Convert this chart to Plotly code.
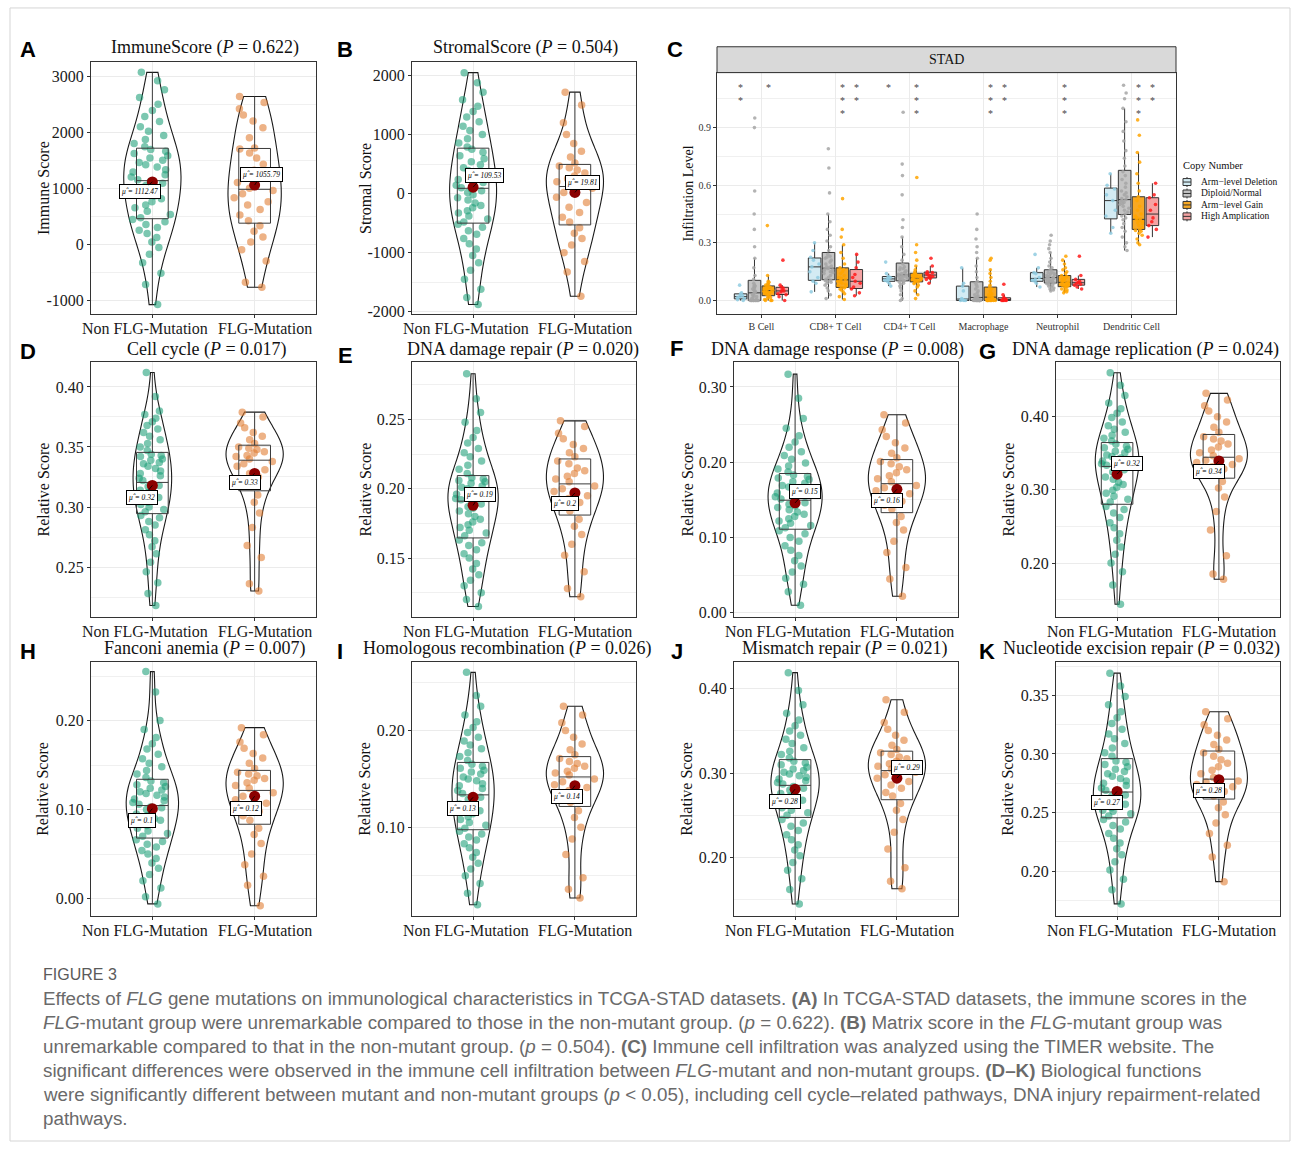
import numpy as np
import plotly.graph_objects as go

FIG_W, FIG_H = 1296, 1149
SERIF = "Liberation Serif"
SANS = "Liberation Sans"

# ------------------------------------------------------------------ data
GROUP_LABELS = ["Non FLG-Mutation", "FLG-Mutation"]

immune_non = [-1080, -720, -520, -330, -180, -60, 40, 120, 190, 250, 300, 350, 400, 440,
              470, 530, 590, 650, 700, 760, 810, 860, 910, 960, 1010, 1050, 1090, 1120,
              1150, 1200, 1240, 1290, 1330, 1380, 1420, 1460, 1500, 1540, 1580, 1620, 1660, 1690,
              1740, 1800, 1870, 1940, 2020, 2100, 2190, 2280, 2390, 2500, 2620, 2760, 2920, 3070]
immune_mut = [-770, -680, -300, -100, 40, 130, 230, 330, 420, 520, 620, 700, 760, 830, 900, 960,
              1000, 1100, 1210, 1320, 1430, 1540, 1630, 1700, 1720, 1900, 2080, 2200, 2310, 2420, 2530, 2640]

stromal_non = [-1880, -1760, -1620, -1450, -1300, -1170, -1050, -940, -850, -760, -690, -630, -570, -520,
               -480, -430, -380, -330, -290, -240, -200, -160, -110, -70, -20, 20, 50, 80,
               100, 140, 190, 240, 290, 340, 390, 440, 490, 540, 590, 640, 700, 750,
               790, 860, 930, 1000, 1070, 1140, 1220, 1300, 1390, 1480, 1590, 1720, 1880, 2050]
stromal_mut = [-1740, -1330, -1150, -1000, -870, -760, -670, -580, -480, -400, -320, -230, -150, -60, 20, 90,
               150, 200, 250, 300, 350, 400, 440, 470, 520, 620, 720, 850, 1000, 1200, 1500, 1720]

cellcycle_non = [0.218, 0.228, 0.237, 0.246, 0.254, 0.261, 0.267, 0.272, 0.277, 0.281, 0.285, 0.288, 0.291, 0.293,
                 0.296, 0.298, 0.300, 0.302, 0.304, 0.306, 0.308, 0.310, 0.312, 0.314, 0.315, 0.317, 0.318, 0.319,
                 0.322, 0.324, 0.326, 0.328, 0.330, 0.332, 0.334, 0.336, 0.337, 0.339, 0.340, 0.342, 0.343, 0.344,
                 0.347, 0.350, 0.353, 0.356, 0.359, 0.362, 0.365, 0.368, 0.371, 0.374, 0.377, 0.380, 0.392, 0.412]
cellcycle_mut = [0.230, 0.236, 0.258, 0.268, 0.283, 0.295, 0.304, 0.310, 0.317, 0.321, 0.325, 0.328, 0.331, 0.334, 0.336, 0.338,
                 0.340, 0.342, 0.343, 0.345, 0.346, 0.348, 0.349, 0.350, 0.353, 0.356, 0.359, 0.362, 0.366, 0.370, 0.375, 0.379]

ddrepair_non = [0.115, 0.120, 0.125, 0.130, 0.134, 0.138, 0.142, 0.146, 0.150, 0.153, 0.156, 0.159, 0.161, 0.163,
                0.166, 0.168, 0.170, 0.172, 0.174, 0.176, 0.178, 0.180, 0.182, 0.184, 0.186, 0.187, 0.189, 0.190,
                0.192, 0.193, 0.194, 0.196, 0.197, 0.198, 0.200, 0.201, 0.202, 0.204, 0.205, 0.206, 0.207, 0.208,
                0.211, 0.214, 0.217, 0.220, 0.223, 0.226, 0.229, 0.233, 0.237, 0.242, 0.248, 0.255, 0.265, 0.283]
ddrepair_mut = [0.122, 0.128, 0.140, 0.152, 0.160, 0.167, 0.173, 0.178, 0.184, 0.187, 0.190, 0.193, 0.195, 0.198, 0.200, 0.202,
                0.205, 0.207, 0.209, 0.211, 0.213, 0.215, 0.218, 0.220, 0.223, 0.226, 0.229, 0.232, 0.236, 0.240, 0.245, 0.249]

ddresponse_non = [0.010, 0.028, 0.038, 0.046, 0.054, 0.062, 0.069, 0.076, 0.083, 0.089, 0.095, 0.100, 0.105, 0.109,
                  0.113, 0.116, 0.119, 0.122, 0.125, 0.128, 0.131, 0.134, 0.137, 0.140, 0.142, 0.144, 0.146, 0.148,
                  0.151, 0.154, 0.157, 0.159, 0.162, 0.164, 0.167, 0.169, 0.172, 0.174, 0.177, 0.179, 0.181, 0.183,
                  0.187, 0.191, 0.195, 0.199, 0.204, 0.209, 0.214, 0.220, 0.227, 0.235, 0.245, 0.258, 0.285, 0.317]
ddresponse_mut = [0.022, 0.045, 0.060, 0.080, 0.095, 0.110, 0.120, 0.128, 0.138, 0.143, 0.148, 0.153, 0.158, 0.162, 0.166, 0.169,
                  0.174, 0.178, 0.182, 0.186, 0.190, 0.194, 0.198, 0.201, 0.206, 0.212, 0.219, 0.226, 0.234, 0.243, 0.252, 0.263]

ddrepl_non = [0.144, 0.170, 0.188, 0.200, 0.212, 0.222, 0.231, 0.240, 0.248, 0.255, 0.262, 0.268, 0.273, 0.277,
              0.283, 0.287, 0.291, 0.295, 0.299, 0.303, 0.307, 0.310, 0.314, 0.317, 0.321, 0.324, 0.327, 0.330,
              0.333, 0.335, 0.337, 0.339, 0.341, 0.343, 0.345, 0.347, 0.350, 0.352, 0.355, 0.357, 0.359, 0.362,
              0.366, 0.370, 0.374, 0.378, 0.382, 0.387, 0.392, 0.398, 0.404, 0.410, 0.418, 0.428, 0.442, 0.459]
ddrepl_mut = [0.178, 0.185, 0.210, 0.245, 0.270, 0.290, 0.302, 0.311, 0.320, 0.324, 0.328, 0.331, 0.334, 0.337, 0.340, 0.342,
              0.346, 0.350, 0.354, 0.358, 0.362, 0.366, 0.369, 0.372, 0.378, 0.385, 0.392, 0.399, 0.407, 0.414, 0.422, 0.431]

fanconi_non = [-0.006, 0.002, 0.012, 0.020, 0.027, 0.034, 0.040, 0.045, 0.050, 0.054, 0.058, 0.061, 0.064, 0.066,
               0.070, 0.073, 0.076, 0.079, 0.082, 0.085, 0.088, 0.090, 0.093, 0.095, 0.098, 0.100, 0.102, 0.103,
               0.106, 0.108, 0.110, 0.112, 0.114, 0.116, 0.118, 0.120, 0.122, 0.124, 0.126, 0.128, 0.130, 0.132,
               0.136, 0.140, 0.144, 0.148, 0.152, 0.157, 0.162, 0.168, 0.174, 0.181, 0.190, 0.200, 0.232, 0.255]
fanconi_mut = [-0.008, 0.015, 0.025, 0.038, 0.050, 0.062, 0.072, 0.079, 0.088, 0.093, 0.098, 0.103, 0.107, 0.111, 0.115, 0.119,
               0.124, 0.127, 0.130, 0.133, 0.135, 0.138, 0.140, 0.142, 0.146, 0.152, 0.158, 0.163, 0.169, 0.176, 0.184, 0.192]

homrec_non = [0.020, 0.032, 0.042, 0.050, 0.057, 0.063, 0.069, 0.074, 0.079, 0.083, 0.087, 0.090, 0.093, 0.096,
              0.099, 0.102, 0.105, 0.108, 0.111, 0.114, 0.117, 0.119, 0.122, 0.124, 0.127, 0.129, 0.131, 0.132,
              0.135, 0.138, 0.140, 0.143, 0.145, 0.148, 0.150, 0.152, 0.155, 0.157, 0.159, 0.161, 0.163, 0.165,
              0.169, 0.173, 0.177, 0.181, 0.185, 0.189, 0.193, 0.198, 0.203, 0.209, 0.216, 0.225, 0.236, 0.260]
homrec_mut = [0.027, 0.036, 0.048, 0.072, 0.088, 0.100, 0.110, 0.117, 0.126, 0.130, 0.134, 0.138, 0.141, 0.144, 0.147, 0.150,
              0.154, 0.156, 0.158, 0.161, 0.163, 0.166, 0.168, 0.171, 0.175, 0.180, 0.186, 0.193, 0.200, 0.208, 0.216, 0.225]

mismatch_non = [0.145, 0.162, 0.175, 0.185, 0.194, 0.202, 0.209, 0.215, 0.221, 0.227, 0.232, 0.237, 0.241, 0.245,
                0.250, 0.253, 0.256, 0.259, 0.262, 0.265, 0.268, 0.270, 0.273, 0.276, 0.278, 0.280, 0.282, 0.284,
                0.287, 0.289, 0.291, 0.293, 0.295, 0.297, 0.299, 0.301, 0.303, 0.305, 0.307, 0.310, 0.312, 0.314,
                0.318, 0.322, 0.326, 0.330, 0.335, 0.340, 0.345, 0.350, 0.356, 0.363, 0.371, 0.381, 0.398, 0.419]
mismatch_mut = [0.163, 0.172, 0.188, 0.210, 0.230, 0.245, 0.256, 0.264, 0.273, 0.277, 0.282, 0.286, 0.290, 0.294, 0.298, 0.301,
                0.305, 0.308, 0.311, 0.314, 0.317, 0.319, 0.322, 0.324, 0.328, 0.333, 0.339, 0.345, 0.352, 0.360, 0.372, 0.387]

ner_non = [0.172, 0.184, 0.193, 0.201, 0.208, 0.214, 0.219, 0.224, 0.228, 0.232, 0.236, 0.239, 0.242, 0.244,
           0.247, 0.249, 0.251, 0.252, 0.254, 0.256, 0.257, 0.259, 0.260, 0.262, 0.263, 0.264, 0.265, 0.266,
           0.269, 0.271, 0.273, 0.275, 0.277, 0.279, 0.281, 0.283, 0.285, 0.287, 0.289, 0.291, 0.293, 0.294,
           0.298, 0.301, 0.305, 0.309, 0.313, 0.317, 0.321, 0.326, 0.331, 0.336, 0.342, 0.349, 0.358, 0.369]
ner_mut = [0.191, 0.212, 0.222, 0.232, 0.241, 0.248, 0.254, 0.259, 0.264, 0.266, 0.268, 0.270, 0.272, 0.274, 0.276, 0.277,
           0.280, 0.283, 0.286, 0.289, 0.292, 0.295, 0.298, 0.301, 0.304, 0.308, 0.312, 0.316, 0.320, 0.325, 0.330, 0.336]

VIOLIN_KEYS = ["A", "B", "D", "E", "F", "G", "H", "I", "J", "K"]
VIOLIN_NON = [immune_non, stromal_non, cellcycle_non, ddrepair_non, ddresponse_non,
              ddrepl_non, fanconi_non, homrec_non, mismatch_non, ner_non]
VIOLIN_MUT = [immune_mut, stromal_mut, cellcycle_mut, ddrepair_mut, ddresponse_mut,
              ddrepl_mut, fanconi_mut, homrec_mut, mismatch_mut, ner_mut]
PANEL_TITLES = ["ImmuneScore", "StromalScore", "Cell cycle", "DNA damage repair", "DNA damage response",
                "DNA damage replication", "Fanconi anemia", "Homologous recombination", "Mismatch repair",
                "Nucleotide excision repair"]
PANEL_P = ["0.622", "0.504", "0.017", "0.020", "0.008", "0.024", "0.007", "0.026", "0.021", "0.032"]
Y_TITLES = ["Immune Score", "Stromal Score"] + ["Relative Score"] * 8
MEAN_NON = [1112.47, 109.53, 0.318, 0.188, 0.146, 0.321, 0.101, 0.131, 0.281, 0.268]
MEAN_MUT = [1055.79, 19.81, 0.328, 0.197, 0.164, 0.339, 0.115, 0.143, 0.294, 0.278]
MEAN_LABEL_NON = ["1112.47", "109.53", "0.32", "0.19", "0.15", "0.32", "0.1", "0.13", "0.28", "0.27"]
MEAN_LABEL_MUT = ["1055.79", "19.81", "0.33", "0.2", "0.16", "0.34", "0.12", "0.14", "0.29", "0.28"]
Y_TICKS = [[-1000, 0, 1000, 2000, 3000], [-2000, -1000, 0, 1000, 2000], [0.25, 0.30, 0.35, 0.40],
           [0.15, 0.20, 0.25], [0.00, 0.10, 0.20, 0.30], [0.20, 0.30, 0.40], [0.00, 0.10, 0.20],
           [0.10, 0.20], [0.20, 0.30, 0.40], [0.20, 0.25, 0.30, 0.35]]
Y_TICK_TEXT = [["-1000", "0", "1000", "2000", "3000"], ["-2000", "-1000", "0", "1000", "2000"],
               ["0.25", "0.30", "0.35", "0.40"], ["0.15", "0.20", "0.25"], ["0.00", "0.10", "0.20", "0.30"],
               ["0.20", "0.30", "0.40"], ["0.00", "0.10", "0.20"], ["0.10", "0.20"],
               ["0.20", "0.30", "0.40"], ["0.20", "0.25", "0.30", "0.35"]]

# Panel C (TIMER, STAD)
C_CELLS = ["B Cell", "CD8+ T Cell", "CD4+ T Cell", "Macrophage", "Neutrophil", "Dendritic Cell"]
C_GROUPS = ["Arm\u2212level Deletion", "Diploid/Normal", "Arm\u2212level Gain", "High Amplication"]
c_deletion = [
    [0.000, 0.004, 0.010, 0.015, 0.020, 0.025, 0.033, 0.040, 0.080],
    [0.045, 0.09, 0.10, 0.12, 0.15, 0.175, 0.19, 0.21, 0.225, 0.26, 0.30],
    [0.075, 0.09, 0.10, 0.105, 0.11, 0.115, 0.12, 0.125, 0.14, 0.20],
    [0.0, 0.0, 0.0, 0.003, 0.005, 0.01, 0.05, 0.075, 0.09, 0.17],
    [0.07, 0.09, 0.10, 0.105, 0.11, 0.12, 0.14, 0.145, 0.17, 0.24],
    [0.35, 0.38, 0.44, 0.47, 0.52, 0.55, 0.58, 0.60, 0.66],
]
c_diploid = [
    [0, 0, 0, 0, 0, 0, 0, 0, 0, 0, 0, 0, 0.005, 0.01, 0.015, 0.02, 0.025, 0.03, 0.035, 0.04, 0.045,
     0.05, 0.055, 0.06, 0.065, 0.07, 0.075, 0.08, 0.09, 0.11, 0.13, 0.17, 0.22, 0.28, 0.37, 0.45, 0.57, 0.90, 0.95],
    [0.01, 0.03, 0.05, 0.065, 0.08, 0.09, 0.095, 0.10, 0.103, 0.106, 0.11, 0.12, 0.13, 0.14, 0.145, 0.15, 0.155,
     0.16, 0.163, 0.166, 0.17, 0.175, 0.18, 0.19, 0.20, 0.21, 0.22, 0.225, 0.23, 0.24, 0.26, 0.28, 0.31, 0.34,
     0.37, 0.41, 0.45, 0.56, 0.69, 0.79],
    [0.0, 0.01, 0.03, 0.05, 0.065, 0.075, 0.085, 0.09, 0.095, 0.10, 0.103, 0.106, 0.11, 0.113, 0.116, 0.12,
     0.123, 0.126, 0.128, 0.13, 0.133, 0.136, 0.14, 0.145, 0.15, 0.155, 0.16, 0.165, 0.17, 0.175, 0.19, 0.21,
     0.24, 0.28, 0.33, 0.38, 0.42, 0.55, 0.65, 0.71, 0.98],
    [0, 0, 0, 0, 0, 0, 0, 0, 0, 0, 0, 0, 0, 0.002, 0.004, 0.006, 0.008, 0.01, 0.013, 0.016, 0.02, 0.025, 0.03,
     0.04, 0.05, 0.06, 0.07, 0.08, 0.09, 0.10, 0.12, 0.15, 0.18, 0.22, 0.25, 0.28, 0.32, 0.37, 0.45],
    [0.05, 0.055, 0.06, 0.065, 0.07, 0.075, 0.08, 0.085, 0.088, 0.091, 0.094, 0.097, 0.10, 0.103, 0.106, 0.109,
     0.112, 0.115, 0.118, 0.121, 0.124, 0.127, 0.13, 0.134, 0.138, 0.142, 0.146, 0.15, 0.16, 0.17, 0.18, 0.20,
     0.22, 0.25, 0.27, 0.29, 0.31, 0.34],
    [0.26, 0.28, 0.30, 0.33, 0.36, 0.38, 0.40, 0.42, 0.43, 0.44, 0.45, 0.46, 0.47, 0.48, 0.49, 0.50, 0.505, 0.51,
     0.515, 0.52, 0.525, 0.53, 0.54, 0.55, 0.56, 0.57, 0.59, 0.61, 0.63, 0.65, 0.67, 0.70, 0.74, 0.78, 0.83,
     0.88, 0.93, 1.00, 1.05, 1.08, 1.12],
]
c_gain = [
    [0, 0, 0, 0.005, 0.01, 0.015, 0.02, 0.025, 0.03, 0.035, 0.04, 0.042, 0.045, 0.048, 0.05, 0.053, 0.056,
     0.06, 0.062, 0.065, 0.068, 0.072, 0.076, 0.08, 0.085, 0.09, 0.095, 0.10, 0.13, 0.39],
    [0.005, 0.02, 0.035, 0.045, 0.055, 0.06, 0.065, 0.068, 0.072, 0.078, 0.085, 0.09, 0.095, 0.10, 0.105, 0.11,
     0.115, 0.12, 0.13, 0.14, 0.15, 0.16, 0.17, 0.19, 0.22, 0.25, 0.29, 0.33, 0.37, 0.53],
    [0.01, 0.03, 0.05, 0.07, 0.08, 0.088, 0.093, 0.097, 0.10, 0.104, 0.107, 0.11, 0.112, 0.114, 0.116, 0.118,
     0.121, 0.124, 0.127, 0.13, 0.134, 0.138, 0.142, 0.15, 0.16, 0.18, 0.21, 0.25, 0.29, 0.64],
    [0, 0, 0, 0, 0, 0, 0, 0, 0, 0.003, 0.005, 0.008, 0.01, 0.012, 0.015, 0.02, 0.025, 0.03, 0.035, 0.04, 0.05,
     0.06, 0.07, 0.08, 0.10, 0.12, 0.14, 0.16, 0.21, 0.22],
    [0.04, 0.045, 0.05, 0.055, 0.06, 0.065, 0.07, 0.072, 0.075, 0.078, 0.08, 0.085, 0.088, 0.09, 0.093, 0.096,
     0.10, 0.105, 0.11, 0.115, 0.12, 0.125, 0.13, 0.14, 0.15, 0.16, 0.17, 0.19, 0.21, 0.23],
    [0.29, 0.30, 0.32, 0.34, 0.35, 0.36, 0.365, 0.37, 0.38, 0.39, 0.40, 0.405, 0.41, 0.415, 0.42, 0.425, 0.43,
     0.44, 0.45, 0.47, 0.49, 0.52, 0.54, 0.57, 0.61, 0.66, 0.72, 0.77, 0.86, 0.94],
]
c_amp = [
    [0.000, 0.020, 0.030, 0.035, 0.045, 0.050, 0.055, 0.065, 0.070, 0.080, 0.210],
    [0.025, 0.04, 0.06, 0.07, 0.09, 0.10, 0.12, 0.135, 0.17, 0.20, 0.24],
    [0.09, 0.11, 0.115, 0.12, 0.125, 0.13, 0.135, 0.14, 0.145, 0.15, 0.18, 0.22],
    [0, 0, 0, 0, 0.003, 0.005, 0.008, 0.012, 0.015, 0.03, 0.085],
    [0.06, 0.07, 0.08, 0.085, 0.09, 0.095, 0.10, 0.11, 0.13, 0.23],
    [0.33, 0.37, 0.39, 0.41, 0.43, 0.47, 0.50, 0.535, 0.55, 0.61],
]
C_SERIES = [c_deletion, c_diploid, c_gain, c_amp]
# significance marks: (cell index, group index, number of stars)
C_STARS = [(0, 0, 2), (0, 2, 1), (1, 2, 3), (1, 3, 2), (2, 0, 1), (2, 2, 3),
           (3, 2, 3), (3, 3, 2), (4, 2, 3), (5, 2, 3), (5, 3, 2)]
C_TICKS = [0.0, 0.3, 0.6, 0.9]
C_TICK_TEXT = ["0.0", "0.3", "0.6", "0.9"]

CAPTION_HEAD = "FIGURE 3"
CAPTION_LINES = [
    "Effects of <i>FLG</i> gene mutations on immunological characteristics in TCGA-STAD datasets. <b>(A)</b> In TCGA-STAD datasets, the immune scores in the",
    "<i>FLG</i>-mutant group were unremarkable compared to those in the non-mutant group. (<i>p</i> = 0.622). <b>(B)</b> Matrix score in the <i>FLG</i>-mutant group was",
    "unremarkable compared to that in the non-mutant group. (<i>p</i> = 0.504). <b>(C)</b> Immune cell infiltration was analyzed using the TIMER website. The",
    "significant differences were observed in the immune cell infiltration between <i>FLG</i>-mutant and non-mutant groups. <b>(D\u2013K)</b> Biological functions",
    "were significantly different between mutant and non-mutant groups (<i>p</i> &lt; 0.05), including cell cycle\u2013related pathways, DNA injury repairment-related",
    "pathways.",
]

# ------------------------------------------------------------------ layout (pixels)
AXIS_INDEX = {"A": 1, "B": 2, "C": 3, "D": 4, "E": 5, "F": 6, "G": 7, "H": 8, "I": 9, "J": 10, "K": 11}
PANEL_BOX = {"A": (91, 316, 62, 316), "B": (412, 636, 62, 316), "C": (717, 1176, 73, 316),
             "D": (91, 316, 364, 620), "E": (412, 636, 364, 620), "F": (734, 958, 364, 620),
             "G": (1056, 1280, 364, 620), "H": (91, 316, 665, 921), "I": (412, 636, 665, 921),
             "J": (734, 958, 665, 921), "K": (1056, 1280, 665, 921)}
Y_RANGE = {"A": (-1254, 3261), "B": (-2046, 2236), "C": (-0.072, 1.186), "D": (0.2086, 0.4207),
           "E": (0.1076, 0.2914), "F": (-0.0053, 0.333), "G": (0.1269, 0.4735), "H": (-0.0198, 0.2663),
           "I": (0.0082, 0.2712), "J": (0.1305, 0.4322), "K": (0.1615, 0.3789)}
MINOR_STEP = {"A": 500, "B": 500, "C": 0.15, "D": 0.025, "E": 0.025, "F": 0.05, "G": 0.05,
              "H": 0.05, "I": 0.05, "J": 0.05, "K": 0.025}
TITLE_POS = {"A": (205, 48), "B": (525, 48), "D": (207, 351), "E": (523, 351), "F": (837, 351),
             "G": (1145, 351), "H": (205, 652), "I": (507, 652), "J": (845, 652), "K": (1141, 652)}
LETTER_POS = {"A": (28, 50), "B": (345, 50), "C": (675, 50), "D": (28, 353), "E": (345, 357),
              "F": (676, 350), "G": (987, 353), "H": (28, 655), "I": (340, 655), "J": (677, 655),
              "K": (987, 655)}
YTITLE_X = {"A": 43, "B": 365, "D": 43, "E": 365, "F": 687, "G": 1008, "H": 43, "I": 365,
            "J": 687, "K": 1008, "C": 688}
XLABEL_SHIFT = (-7.5, 10.5)       # pixel shift of the two group labels from their ticks
XLABEL_GAP = 14.5                 # pixels from panel bottom to label anchor
STAR_TOP = 80                     # pixel row of the top of the significance stacks
LABEL_OFFSETS = {"A": ((-12, 10), (7, -11)), "B": ((11, -12), (8, -10)), "D": ((-10, 12), (-10, 9)),
                 "E": ((7, -11), (-10, 11)), "F": ((10, -11), (-10, 11)), "G": ((10, -11), (-10, 11)),
                 "H": ((-10, 12), (-9, 12)), "I": ((-10, 11), (-8, 11)), "J": ((-10, 12), (10, -11)),
                 "K": ((-10, 11), (-10, 11))}

TEAL = "#1B9E77"
ORANGE = "#E07B2E"
MEAN_COL = "#8B0000"
C_FILL = ["#D3EBF3", "#C4C4C4", "#F7A823", "#F4A3A3"]
C_PTS = ["#8FCBE0", "#A6A6A6", "#FFA500", "#FF1A1A"]
X_RANGE = (-0.6, 1.6)


def px_x(x):
    return x / FIG_W


def px_y(y):
    return 1 - y / FIG_H


def kde_peak(v):
    v = np.asarray(v, float)
    n = v.size
    sd = v.std(ddof=1)
    q1, q3 = np.percentile(v, [25, 75])
    bw = 1.059 * min(sd, (q3 - q1) / 1.349) * n ** -0.2
    g = np.linspace(v.min(), v.max(), 512)
    d = np.exp(-0.5 * ((g[:, None] - v[None, :]) / bw) ** 2).sum(1) / (n * bw * np.sqrt(2 * np.pi))
    return d.max()


fig = go.Figure()
layout = {}


def refs(key):
    k = AXIS_INDEX[key]
    return ("x" if k == 1 else f"x{k}"), ("y" if k == 1 else f"y{k}"), \
           ("xaxis" if k == 1 else f"xaxis{k}"), ("yaxis" if k == 1 else f"yaxis{k}")


def paper_text(x, y, text, font, xanchor="center", yanchor="middle", **kw):
    fig.add_annotation(x=px_x(x), y=px_y(y), xref="paper", yref="paper", showarrow=False, text=text,
                       font=font, xanchor=xanchor, yanchor=yanchor, **kw)


AX_COMMON = dict(showline=True, linecolor="#333333", linewidth=1, mirror=True, ticks="outside",
                 ticklen=3, tickcolor="#333333", tickwidth=1, zeroline=False, gridcolor="#EBEBEB",
                 gridwidth=1, tickangle=0)

# ------------------------------------------------------------------ violin panels
VW = 0.56
for i, key in enumerate(VIOLIN_KEYS):
    xr, yr, xa, ya = refs(key)
    x0, x1, y0, y1 = PANEL_BOX[key]
    non, mut = VIOLIN_NON[i], VIOLIN_MUT[i]
    peaks = [kde_peak(non), kde_peak(mut)]
    widths = [VW * p / max(peaks) for p in peaks]
    for j, (vals, col) in enumerate(zip([non, mut], [TEAL, ORANGE])):
        fig.add_trace(go.Violin(
            x=[j] * len(vals), y=vals, xaxis=xr, yaxis=yr, orientation="v", width=widths[j],
            spanmode="hard", points="all", jitter=0.8, pointpos=0,
            fillcolor="rgba(0,0,0,0)", line=dict(color="#1a1a1a", width=1.1),
            marker=dict(color=col, size=7.5, opacity=0.58, line=dict(width=0)),
            box=dict(visible=False), meanline=dict(visible=False), showlegend=False, hoverinfo="skip"))
        fig.add_trace(go.Box(
            x=[j] * len(vals), y=vals, xaxis=xr, yaxis=yr, orientation="v", width=0.31,
            boxpoints=False, whiskerwidth=0, fillcolor="rgba(0,0,0,0)",
            line=dict(color="#3a3a3a", width=1), showlegend=False, hoverinfo="skip"))
    fig.add_trace(go.Scatter(x=[0, 1], y=[MEAN_NON[i], MEAN_MUT[i]], xaxis=xr, yaxis=yr, mode="markers",
                             marker=dict(color=MEAN_COL, size=11), showlegend=False, hoverinfo="skip"))
    for j, (m, lab) in enumerate(zip([MEAN_NON[i], MEAN_MUT[i]], [MEAN_LABEL_NON[i], MEAN_LABEL_MUT[i]])):
        dx, dy = LABEL_OFFSETS[key][j]
        fig.add_annotation(x=j, y=m, xref=xr, yref=yr, text=f"<i>\u03bc\u0302 = {lab}</i>",
                           showarrow=True, arrowhead=0, arrowwidth=0.8, arrowcolor="#000", ax=dx, ay=dy,
                           font=dict(family=SERIF, size=7.5, color="#000"), bgcolor="white",
                           bordercolor="#000", borderwidth=1, borderpad=2)
    layout[xa] = dict(AX_COMMON, domain=[px_x(x0), px_x(x1)], range=list(X_RANGE), tickvals=[0, 1],
                      showticklabels=False, showgrid=True, anchor=yr)
    layout[ya] = dict(AX_COMMON, domain=[px_y(y1), px_y(y0)], range=list(Y_RANGE[key]),
                      tickvals=Y_TICKS[i], ticktext=Y_TICK_TEXT[i], showgrid=True, anchor=xr,
                      tickfont=dict(family=SERIF, size=16, color="#1a1a1a"),
                      minor=dict(showgrid=True, gridcolor="#F0F0F0", gridwidth=0.8,
                                 tick0=0, dtick=MINOR_STEP[key], ticks=""))
    # group labels under the panel
    for j, lab in enumerate(GROUP_LABELS):
        tick_px = x0 + (j - X_RANGE[0]) / (X_RANGE[1] - X_RANGE[0]) * (x1 - x0)
        paper_text(tick_px + XLABEL_SHIFT[j], y1 + XLABEL_GAP, lab,
                   dict(family=SERIF, size=16, color="#1a1a1a"))
    tx, ty = TITLE_POS[key]
    paper_text(tx, ty, f"{PANEL_TITLES[i]} (<i>P</i> = {PANEL_P[i]})",
               dict(family=SERIF, size=18, color="#111"))
    paper_text(YTITLE_X[key], (y0 + y1) / 2, Y_TITLES[i], dict(family=SERIF, size=16, color="#111"),
               textangle=-90)

# ------------------------------------------------------------------ panel C
xr, yr, xa, ya = refs("C")
x0, x1, y0, y1 = PANEL_BOX["C"]
OFFS = [(g - 1.5) * 0.1875 for g in range(4)]
for g, series in enumerate(C_SERIES):
    xs, ys = [], []
    for ci, vals in enumerate(series):
        xs += [ci + OFFS[g]] * len(vals)
        ys += vals
    fig.add_trace(go.Box(x=xs, y=ys, xaxis=xr, yaxis=yr, orientation="v", width=0.17,
                         boxpoints="all", jitter=0.8, pointpos=0, whiskerwidth=0,
                         fillcolor=C_FILL[g], line=dict(color="#333333", width=1),
                         marker=dict(color=C_PTS[g], size=3.6, opacity=0.85, line=dict(width=0)),
                         showlegend=False, hoverinfo="skip"))
for ci, g, n in C_STARS:
    fig.add_annotation(x=ci + OFFS[g], y=px_y(STAR_TOP), xref=xr, yref="paper",
                       text="<br>".join(["*"] * n), showarrow=False,
                       font=dict(family=SERIF, size=10, color="#444444"),
                       xanchor="center", yanchor="top")
layout[xa] = dict(AX_COMMON, domain=[px_x(x0), px_x(x1)], range=[-0.6, 5.6], tickvals=list(range(6)),
                  ticktext=C_CELLS, showgrid=True, anchor=yr,
                  tickfont=dict(family=SERIF, size=10, color="#333"))
layout[ya] = dict(AX_COMMON, domain=[px_y(y1), px_y(y0)], range=list(Y_RANGE["C"]), tickvals=C_TICKS,
                  ticktext=C_TICK_TEXT, showgrid=True, anchor=xr,
                  tickfont=dict(family=SERIF, size=10, color="#333"),
                  minor=dict(showgrid=True, gridcolor="#F0F0F0", gridwidth=0.8, tick0=0,
                             dtick=MINOR_STEP["C"], ticks=""))
paper_text(YTITLE_X["C"], (y0 + y1) / 2, "Infiltration Level", dict(family=SERIF, size=14, color="#111"),
           textangle=-90)

shapes = []
# strip
shapes.append(dict(type="rect", xref="paper", yref="paper", x0=px_x(717), x1=px_x(1176),
                   y0=px_y(73), y1=px_y(47), fillcolor="#D9D9D9", line=dict(color="#333", width=1)))
paper_text(946.5, 60, "STAD", dict(family=SERIF, size=14, color="#111"))
# legend
paper_text(1181, 166, "Copy Number", dict(family=SERIF, size=10.5, color="#111"), xanchor="left")
for g, name in enumerate(C_GROUPS):
    cy = 183 + g * 11.5
    shapes.append(dict(type="line", xref="paper", yref="paper", x0=px_x(1187), x1=px_x(1187),
                       y0=px_y(cy - 5), y1=px_y(cy + 5), line=dict(color="#333", width=1)))
    shapes.append(dict(type="rect", xref="paper", yref="paper", x0=px_x(1183), x1=px_x(1191),
                       y0=px_y(cy + 3.5), y1=px_y(cy - 3.5), fillcolor=C_FILL[g],
                       line=dict(color="#333", width=1)))
    shapes.append(dict(type="line", xref="paper", yref="paper", x0=px_x(1183), x1=px_x(1191),
                       y0=px_y(cy), y1=px_y(cy), line=dict(color="#333", width=1)))
    paper_text(1199, cy, name, dict(family=SERIF, size=9.5, color="#111"), xanchor="left")

# letters
for key, (lx, ly) in LETTER_POS.items():
    paper_text(lx, ly, f"<b>{key}</b>", dict(family=SANS, size=22, color="#000"))

# caption
paper_text(41, 980, CAPTION_HEAD, dict(family=SANS, size=16, color="#5a5a5a"), xanchor="left")
for li, line in enumerate(CAPTION_LINES):
    paper_text(41, 1004 + 24 * li, line, dict(family=SANS, size=18.8, color="#6a6a6a"), xanchor="left")

# page frame
shapes.append(dict(type="rect", xref="paper", yref="paper", x0=px_x(10), x1=px_x(1290),
                   y0=px_y(1147), y1=px_y(8), line=dict(color="#D5D5D5", width=1)))

fig.update_layout(width=FIG_W, height=FIG_H, margin=dict(l=0, r=0, t=0, b=0),
                  paper_bgcolor="white", plot_bgcolor="white", showlegend=False,
                  violinmode="overlay", boxmode="overlay", shapes=shapes, **layout)
fig.write_html("out.html", config={"responsive": False})
